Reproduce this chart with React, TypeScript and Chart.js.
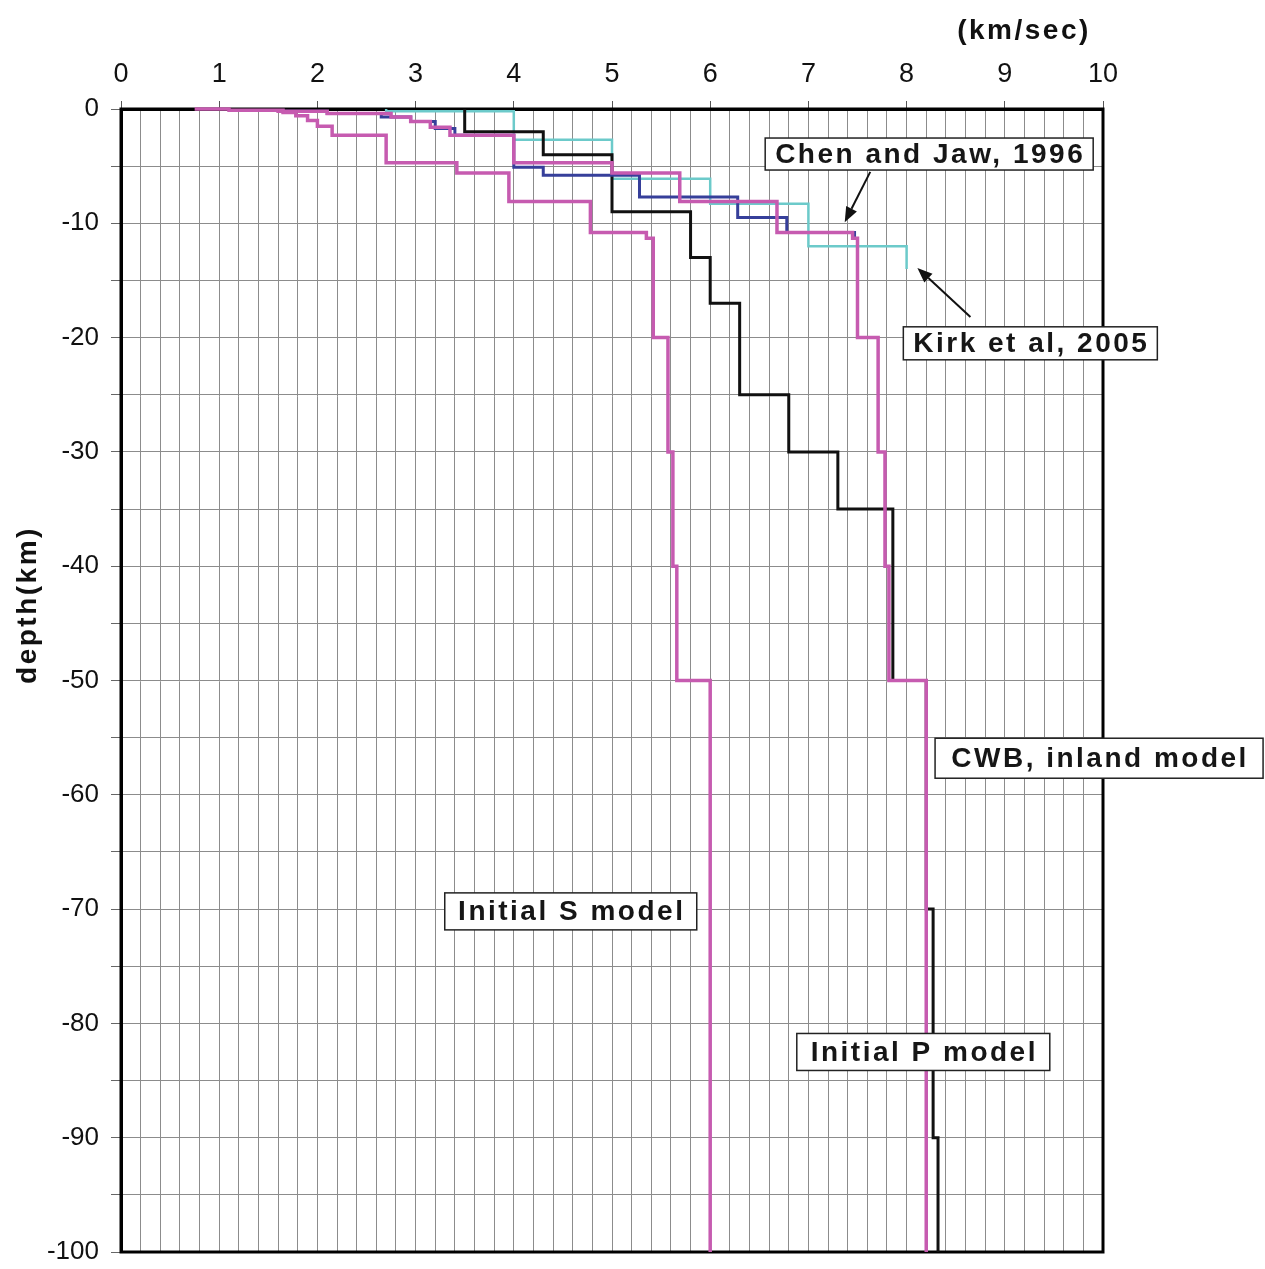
import React, { useEffect, useRef } from "react";
import { Chart, registerables } from "chart.js";

Chart.register(...registerables);

// ---------- data (depth in km, velocity in km/sec) ----------
// Each model: layer boundaries (depths) and the velocity inside each layer.
const cwbDepths = [0, -2, -4, -9, -13, -17, -25, -30, -35, -50, -70, -90, -100];
const cwbVelocities = [3.5, 4.3, 5.0, 5.8, 6.0, 6.3, 6.8, 7.3, 7.86, 8.2, 8.27, 8.32];

const pDepths = [0, -0.2, -0.4, -0.7, -1.1, -1.6, -2.3, -4.7, -5.6, -8.1, -10.8, -11.3, -20, -30, -40, -50, -100];
const pVelocities = [1.6, 2.1, 2.75, 2.95, 3.15, 3.35, 4.0, 5.0, 5.69, 6.68, 7.45, 7.5, 7.71, 7.78, 7.82, 8.2];

const sSurfaceVelocity = 0.75;
const sDepths = [0, -0.1, -0.3, -0.6, -1.0, -1.5, -2.3, -4.7, -5.6, -8.1, -10.8, -11.3, -20, -30, -40, -50, -100];
const sVelocities = [1.1, 1.65, 1.78, 1.9, 2.0, 2.15, 2.7, 3.42, 3.95, 4.78, 5.35, 5.42, 5.57, 5.62, 5.66, 6.0];

const chenDepths = [0, -0.2, -0.4, -0.7, -1.1, -1.7, -2.3, -5.1, -5.8, -7.7, -9.5, -10.8, -11.3];
const chenVelocities = [1.65, 2.1, 2.65, 2.95, 3.2, 3.4, 4.0, 4.3, 5.28, 6.28, 6.78, 7.47];

const kirkDepths = [0, -0.2, -2.7, -6.1, -8.3, -12.0, -14.0];
const kirkVelocities = [2.7, 4.0, 5.0, 6.0, 7.0, 8.0];

// tick labels
const xTickLabels = ["0", "1", "2", "3", "4", "5", "6", "7", "8", "9", "10"];
const yTickLabels = ["0", "-10", "-20", "-30", "-40", "-50", "-60", "-70", "-80", "-90", "-100"];

const xAxisTitle = "(km/sec)";
const yAxisTitle = "depth(km)";

// annotation labels (center in data units, box size in px)
const labelTexts = ["Chen and Jaw, 1996", "Kirk et al, 2005", "CWB, inland model", "Initial S model", "Initial P model"];
const labelX = [8.23, 9.26, 9.96, 4.58, 8.17];
const labelY = [-3.94, -20.5, -56.8, -70.2, -82.5];
const labelW = [328, 254, 328, 252, 253];
const labelH = [32, 33, 40, 37, 37];
// arrows: [fromX, fromY, toX, toY] in data units
const arrows = [
  [7.63, -5.5, 7.37, -9.9],
  [8.65, -18.2, 8.11, -13.9],
];

const FONT = '"Liberation Sans", Arial, Helvetica, sans-serif';

function steps(depths: number[], vels: number[], surface?: number) {
  const pts: { x: number; y: number }[] = [];
  if (surface !== undefined) pts.push({ x: surface, y: depths[0] });
  for (let i = 0; i < vels.length; i++) {
    pts.push({ x: vels[i], y: depths[i] });
    pts.push({ x: vels[i], y: depths[i + 1] });
  }
  return pts;
}

const isInt = (v: number) => Math.abs(v - Math.round(v)) < 1e-6;

export default function App() {
  const ref = useRef<HTMLCanvasElement | null>(null);

  useEffect(() => {
    document.body.style.margin = "0";
    document.body.style.overflow = "hidden";
    const canvas = ref.current;
    if (!canvas) return;

    const framePlugin = {
      id: "frame",
      beforeDatasetsDraw(chart: any) {
        const { ctx, chartArea: a } = chart;
        ctx.save();
        ctx.strokeStyle = "#000";
        ctx.lineWidth = 3;
        ctx.strokeRect(a.left, a.top, a.right - a.left, a.bottom - a.top);
        ctx.restore();
      },
    };

    const annotPlugin = {
      id: "annot",
      afterDraw(chart: any) {
        const { ctx } = chart;
        const xs = chart.scales.x;
        const ys = chart.scales.y;
        ctx.save();
        // axis titles
        ctx.fillStyle = "#111";
        ctx.font = `bold 28px ${FONT}`;
        (ctx as any).letterSpacing = "2.5px";
        ctx.textAlign = "center";
        ctx.textBaseline = "middle";
        ctx.fillText(xAxisTitle, 1024, 31);
        ctx.save();
        ctx.translate(28, 605);
        ctx.rotate(-Math.PI / 2);
        ctx.fillText(yAxisTitle, 0, 0);
        ctx.restore();

        // arrows
        ctx.strokeStyle = "#111";
        ctx.fillStyle = "#111";
        ctx.lineWidth = 2;
        arrows.forEach(([fx, fy, tx, ty]) => {
          const x1 = xs.getPixelForValue(fx);
          const y1 = ys.getPixelForValue(fy);
          const x2 = xs.getPixelForValue(tx);
          const y2 = ys.getPixelForValue(ty);
          const ang = Math.atan2(y2 - y1, x2 - x1);
          const L = 15;
          const W = 6;
          const bx = x2 - L * Math.cos(ang);
          const by = y2 - L * Math.sin(ang);
          ctx.beginPath();
          ctx.moveTo(x1, y1);
          ctx.lineTo(bx, by);
          ctx.stroke();
          ctx.beginPath();
          ctx.moveTo(x2, y2);
          ctx.lineTo(bx + W * Math.sin(ang), by - W * Math.cos(ang));
          ctx.lineTo(bx - W * Math.sin(ang), by + W * Math.cos(ang));
          ctx.closePath();
          ctx.fill();
        });

        // label boxes
        labelTexts.forEach((t, i) => {
          const cx = xs.getPixelForValue(labelX[i]);
          const cy = ys.getPixelForValue(labelY[i]);
          const w = labelW[i];
          const h = labelH[i];
          ctx.fillStyle = "#fff";
          ctx.fillRect(cx - w / 2, cy - h / 2, w, h);
          ctx.strokeStyle = "#222";
          ctx.lineWidth = 1.5;
          ctx.strokeRect(cx - w / 2, cy - h / 2, w, h);
          ctx.fillStyle = "#161616";
          ctx.font = `bold 28px ${FONT}`;
          (ctx as any).letterSpacing = "2.5px";
          ctx.textAlign = "center";
          ctx.textBaseline = "middle";
          ctx.fillText(t, cx + 1, cy + 1);
        });
        ctx.restore();
      },
    };

    const chart = new Chart(canvas, {
      type: "line",
      data: {
        datasets: [
          {
            label: "Initial S model",
            data: steps(sDepths, sVelocities, sSurfaceVelocity),
            borderColor: "#c65bb0",
            borderWidth: 3.5,
            order: 0,
            clip: false as any,
          },
          {
            label: "Initial P model",
            data: steps(pDepths, pVelocities),
            borderColor: "#c65bb0",
            borderWidth: 3.5,
            order: 0,
            clip: false as any,
          },
          {
            label: "Chen and Jaw, 1996",
            data: steps(chenDepths, chenVelocities),
            borderColor: "#363f9a",
            borderWidth: 3,
            order: 1,
            clip: false as any,
          },
          {
            label: "CWB, inland model",
            data: steps(cwbDepths, cwbVelocities),
            borderColor: "#111111",
            borderWidth: 3,
            order: 2,
            clip: false as any,
          },
          {
            label: "Kirk et al, 2005",
            data: steps(kirkDepths, kirkVelocities),
            borderColor: "#6ccaca",
            borderWidth: 2.5,
            order: 3,
            clip: false as any,
          },
        ],
      },
      options: {
        responsive: false,
        animation: false,
        devicePixelRatio: 1,
        layout: { padding: { left: 0, top: 0, right: 162, bottom: 17 } },
        plugins: { legend: { display: false }, tooltip: { enabled: false } },
        elements: { point: { radius: 0 }, line: { tension: 0 } },
        scales: {
          x: {
            type: "linear",
            position: "top",
            min: 0,
            max: 10,
            ticks: {
              stepSize: 0.2,
              maxTicksLimit: 1000,
              autoSkip: false,
              maxRotation: 0,
              padding: 10,
              color: "#111",
              font: { family: FONT, size: 27 },
              callback: (v: any) => (isInt(Number(v)) ? xTickLabels[Math.round(Number(v))] : ""),
            },
            grid: {
              color: "#8c8c8c",
              lineWidth: 1,
              tickLength: 8,
              tickColor: (c: any) => (c.tick && isInt(c.tick.value) ? "#555" : "rgba(0,0,0,0)"),
            },
            border: { display: true, color: "#000", width: 3 },
            afterFit: (s: any) => {
              s.height = 109;
              s.paddingLeft = 0;
              s.paddingRight = 0;
            },
          },
          y: {
            type: "linear",
            min: -100,
            max: 0,
            ticks: {
              stepSize: 5,
              maxTicksLimit: 1000,
              autoSkip: false,
              padding: 12,
              color: "#111",
              font: { family: FONT, size: 26 },
              callback: (v: any) => {
                const n = Number(v);
                return n % 10 === 0 ? yTickLabels[Math.round(-n / 10)] : "";
              },
            },
            grid: { color: "#8c8c8c", lineWidth: 1, tickLength: 10, tickColor: "#666" },
            border: { display: true, color: "#000", width: 3 },
            afterFit: (s: any) => {
              s.width = 121;
              s.paddingTop = 0;
              s.paddingBottom = 0;
            },
          },
        },
      },
      plugins: [framePlugin, annotPlugin],
    });

    return () => chart.destroy();
  }, []);

  return (
    <div style={{ position: "absolute", left: 0, top: 0, width: 1265, height: 1269, background: "#fff" }}>
      <canvas ref={ref} width={1265} height={1269} style={{ width: 1265, height: 1269, display: "block" }} />
    </div>
  );
}
